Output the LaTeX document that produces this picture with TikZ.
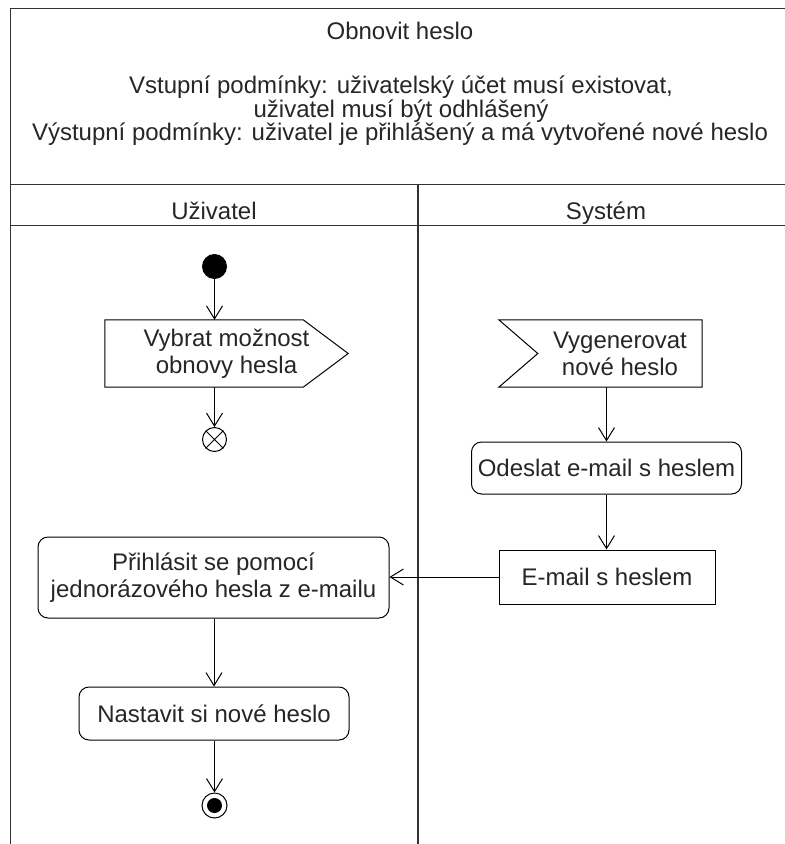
\documentclass[tikz,border=0pt]{standalone}
\usepackage{fontspec}
\setmainfont{Liberation Sans}
\usetikzlibrary{arrows.meta}
\begin{document}
\begin{tikzpicture}[x=1pt,y=-1pt,
  every node/.style={font=\fontsize{24}{27}\selectfont, text=black!85},
  frame/.style={line width=1.6pt, draw=black!80},
  box/.style={draw, line width=1pt, align=center, inner sep=0pt},
  actbox/.style={box, rounded corners=10pt},
  plainnode/.style={align=center, inner sep=0pt},
  flow/.style={line width=1pt, -{Straight Barb[length=13pt,width=16pt,line width=1pt]}},
  dot/.style={circle, inner sep=0pt}
]
\useasboundingbox (0,0) rectangle (785,844);

% swimlane frame
\begin{scope}
  \clip (0,0) rectangle (785,844);
  \draw[frame] (10.5,860) -- (10.5,8.5) -- (800,8.5);
  \draw[frame] (10.5,184.5) -- (800,184.5);
  \draw[frame] (10.5,225.5) -- (800,225.5);
  \draw[frame] (418,184.5) -- (418,860);
\end{scope}

% header texts
\node[anchor=base] (title) at (400,39) {Obnovit heslo};
\node[anchor=base] (pre1) at (401,93) {Vstupní podmínky: uživatelský účet musí existovat,};
\node[anchor=base] (pre2) at (401,117) {uživatel musí být odhlášený};
\node[anchor=base] (post) at (400,140) {Výstupní podmínky: uživatel je přihlášený a má vytvořené nové heslo};
\node[anchor=base] (laneU) at (214,219) {Uživatel};
\node[anchor=base] (laneS) at (606,219) {Systém};

% user lane
\node[dot, fill=black, minimum size=25pt] (start) at (214.5,266.5) {};

\node[plainnode, minimum width=243pt, minimum height=67pt] (choose) at (226.5,353.5)
  {Vybrat možnost\\obnovy hesla};
\draw[line width=1pt] (choose.north west) -- ([xshift=-45pt]choose.north east)
  -- (choose.east) -- ([xshift=-45pt]choose.south east) -- (choose.south west) -- cycle;

\node[dot, draw, line width=1pt, minimum size=24pt] (cancel) at (214.5,439.5) {};
\draw[line width=1pt] (cancel.north west) -- (cancel.south east)
  (cancel.north east) -- (cancel.south west);

\node[actbox, minimum width=351pt, minimum height=81pt] (login) at (213.5,577.5)
  {Přihlásit se pomocí\\jednorázového hesla z e-mailu};
\node[actbox, minimum width=270pt, minimum height=53pt] (setpw) at (214,713.5)
  {Nastavit si nové heslo};

\node[dot, draw, line width=1pt, minimum size=25pt] (end) at (214.5,805.5) {};
\fill (end.center) circle (7.5pt);

% system lane
\node[plainnode, minimum width=164pt, minimum height=67pt] (gen) at (620,353.5)
  {Vygenerovat\\nové heslo};
\draw[line width=1pt] ([xshift=-39pt]gen.north west) -- (gen.north east)
  -- (gen.south east) -- ([xshift=-39pt]gen.south west) -- (gen.west) -- cycle;

\node[actbox, minimum width=270pt, minimum height=52pt] (send) at (606.5,468)
  {Odeslat e-mail s heslem};
\node[box, minimum width=216pt, minimum height=54pt] (mail) at (607,577)
  {E-mail s heslem};

% control flow
\draw[flow] (start) -- (start |- choose.north);
\draw[flow] (choose.south -| cancel) -- (cancel);
\draw[flow] (gen.south -| send) -- (send.north);
\draw[flow] (send.south) -- (send.south |- mail.north);
\draw[flow] (mail.west) -- (mail.west -| login.east);
\draw[flow] (login.south -| setpw) -- (setpw.north);
\draw[flow] (setpw.south -| end) -- (end);
\end{tikzpicture}
\end{document}
